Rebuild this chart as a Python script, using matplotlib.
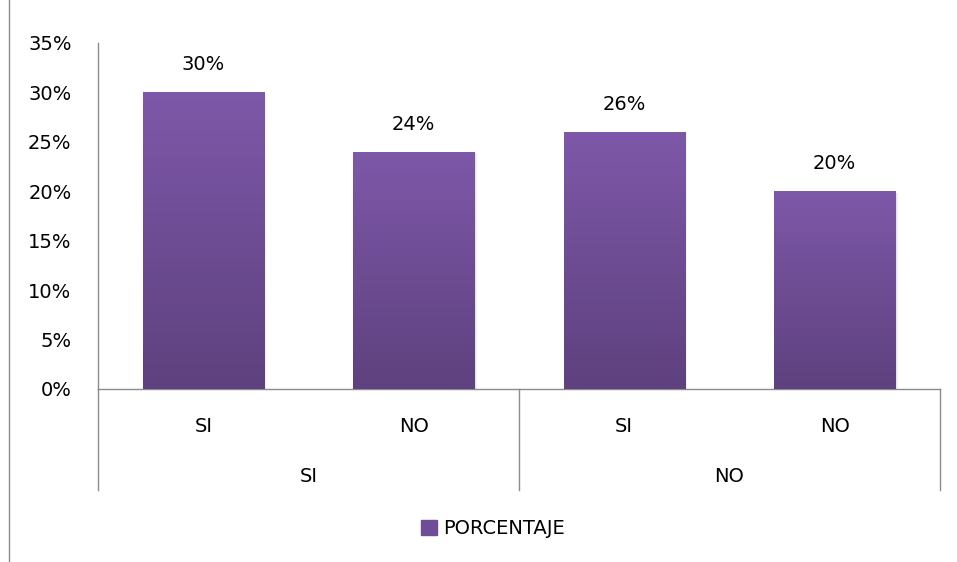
import numpy as np
import matplotlib.pyplot as plt
from matplotlib.lines import Line2D
from matplotlib.patches import Patch
from matplotlib.colors import LinearSegmentedColormap

plt.rcParams['font.family'] = ['DejaVu Sans']
FS = 14

groups = ["SI", "NO"]
answers = ["SI", "NO", "SI", "NO"]
porcentaje = [30, 24, 26, 20]

W, H = 957, 562
fig = plt.figure(figsize=(W / 100, H / 100), dpi=100)
ax = fig.add_axes([98 / W, (H - 389) / H, 842 / W, (389 - 43) / H])

x = np.arange(len(porcentaje))
width = 0.575
top_col, bot_col = "#7e58a9", "#5e417e"
cmap = LinearSegmentedColormap.from_list("bar", [bot_col, top_col])

# soft shadow, then gradient-filled bars
for off, a in [(0.012, 0.10), (0.008, 0.12), (0.004, 0.15)]:
    ax.bar(x + off, porcentaje, width, bottom=-0.15, color="gray", alpha=a, zorder=1)
bars = ax.bar(x, porcentaje, width, color=top_col, zorder=2)
grad = np.linspace(0, 1, 256).reshape(-1, 1)
for b in bars:
    x0, y0 = b.get_x(), b.get_y()
    im = ax.imshow(grad, cmap=cmap, origin="lower", aspect="auto", zorder=3,
                   extent=[x0, x0 + b.get_width(), y0, y0 + b.get_height()])
    im.set_clip_path(b)

for xi, v in zip(x, porcentaje):
    ax.annotate(f"{v}%", (xi, v), xytext=(0, 13), textcoords="offset points",
                ha="center", va="bottom", fontsize=FS)

ax.set_xlim(-0.5, len(porcentaje) - 0.5)
ax.set_ylim(0, 35)
ax.set_yticks(range(0, 36, 5))
ax.set_yticklabels([f"{t}%" for t in range(0, 36, 5)], fontsize=FS)
ax.tick_params(axis="y", length=0, pad=19)
ax.set_xticks([])
for s in ["top", "right"]:
    ax.spines[s].set_visible(False)
for s in ["left", "bottom"]:
    ax.spines[s].set_color("#8c8c8c")
    ax.spines[s].set_linewidth(1.0)

# two-level category axis
tr = ax.get_xaxis_transform()
for xi, lab in zip(x, answers):
    ax.text(xi, -37 / 346, lab, transform=tr, ha="center", va="center", fontsize=FS)
for gi, g in enumerate(groups):
    ax.text(2 * gi + 0.5, -88 / 346, g, transform=tr, ha="center", va="center", fontsize=FS)
for xv in [-0.5, 1.5, 3.5]:
    ax.add_line(Line2D([xv, xv], [0, -101 / 346], transform=tr, color="#8c8c8c",
                       lw=1.0, clip_on=False))

fig.add_artist(Line2D([8.5 / W, 8.5 / W], [0, 1], transform=fig.transFigure,
                      color="#8c8c8c", lw=1.0))

fig.legend(handles=[Patch(color="#6f4d96", label="PORCENTAJE")], loc="center",
           bbox_to_anchor=(493 / W, 1 - 529 / H), frameon=False, fontsize=FS,
           handlelength=0.8, handleheight=0.8, handletextpad=0.35)

fig.savefig("out.png", dpi=100)
